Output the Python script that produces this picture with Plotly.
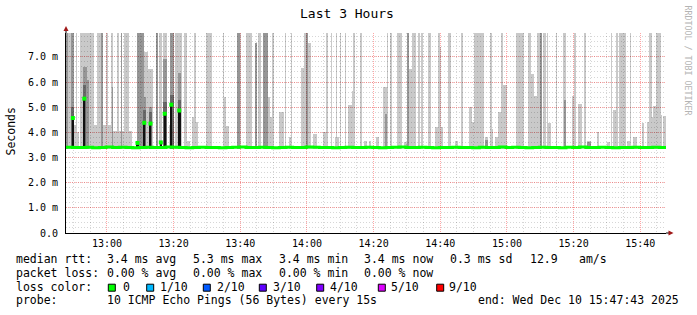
import plotly.graph_objects as go
import pandas as pd

START = pd.Timestamp("2025-12-10 12:47:43")
SPAN_MIN = 180
END = START + pd.Timedelta(minutes=SPAN_MIN)
FULL = 9.0  # smoke that runs past the top of the chart

# ---- smoke (outer ping range): start minute, end minute (after START), top in ms
light_start = [0.0, 0.51, 1.59, 2.49, 3.0, 3.3, 4.29, 8.31, 9.21, 10.41, 10.59, 11.01, 11.85, 12.45, 13.35, 13.95,
               15.21, 15.81, 16.5, 16.8, 17.4, 18.81, 21.3, 23.4, 24.6, 27.09, 27.81, 29.19, 30.81, 31.29, 32.79,
               35.31, 36.3, 37.65, 38.25, 39.0, 42.0, 47.01, 47.49, 48.0, 51.15, 52.2, 54.0, 56.7, 57.69, 59.01,
               60.51, 61.2, 61.89, 63.99, 65.7, 66.9, 67.35, 70.5, 71.25, 72.6, 74.19, 77.19, 77.91, 79.35, 80.7,
               81.0, 81.39, 82.2, 83.64, 84.69, 85.71, 86.19, 88.2, 89.49, 90.9, 92.91, 95.19, 96.21, 97.2, 99.21,
               101.49, 102.21, 102.9, 103.89, 105.69, 106.5, 108.69, 110.7, 111.51, 112.11, 112.59, 114.69, 116.7,
               118.5, 120.9, 121.65, 122.49, 125.7, 127.29, 127.71, 128.7, 129.69, 130.5, 131.19, 135.0, 138.69,
               139.5, 140.49, 141.21, 143.1, 144.21, 144.69, 147.09, 149.19, 151.71, 152.49, 153.69, 155.4, 156.21,
               159.21, 162.21, 163.5, 164.19, 165.0, 165.9, 168.21, 169.05, 170.19, 172.71, 174.21, 174.9, 175.71,
               176.1, 176.85, 178.35, 179.19]
light_end = [0.51, 1.59, 2.49, 3.0, 3.3, 3.99, 8.31, 9.21, 10.41, 10.59, 11.01, 11.85, 12.45, 13.35, 13.95, 15.21,
             15.81, 16.5, 16.8, 17.4, 18.81, 19.8, 23.4, 24.6, 26.1, 27.51, 28.8, 30.21, 31.29, 32.4, 34.71,
             36.3, 37.2, 38.25, 39.0, 39.45, 43.8, 47.49, 47.91, 48.9, 52.05, 52.5, 55.71, 57.15, 58.5, 60.51,
             61.2, 61.89, 62.49, 65.31, 66.0, 67.35, 67.65, 71.25, 72.6, 73.5, 75.21, 77.91, 78.69, 79.65, 81.0,
             81.39, 81.9, 82.59, 83.94, 85.71, 86.19, 86.7, 88.71, 90.21, 91.5, 93.9, 96.21, 96.69, 97.89, 100.71,
             102.21, 102.9, 103.89, 104.91, 106.2, 107.19, 109.5, 111.51, 112.11, 112.59, 113.19, 115.5, 117.69,
             119.1, 121.65, 122.49, 125.49, 126.69, 127.71, 128.19, 129.51, 130.5, 131.1, 132.21, 137.4, 139.5,
             140.49, 141.21, 142.71, 143.91, 144.69, 145.5, 147.39, 150.09, 152.49, 152.91, 154.71, 156.0, 157.5,
             159.9, 163.2, 163.89, 165.0, 165.51, 168.0, 169.05, 169.41, 171.21, 173.49, 174.9, 175.71, 176.1,
             176.85, 178.35, 178.8, 179.91]
light_top = [FULL, FULL, FULL, 4.3, FULL, 4.0, FULL, 4.3, FULL, 4.3, FULL, 4.3, FULL, 4.3, FULL, 4.05,
             FULL, 4.05, FULL, 4.05, FULL, 4.05, FULL, 7.2, 6.5, FULL, FULL, FULL, 4.3, FULL, FULL,
             FULL, 3.65, 4.6, FULL, 4.4, FULL, FULL, 5.4, 4.24, FULL, FULL, FULL, 7.55, FULL, FULL,
             5.4, 4.6, FULL, 4.82, FULL, 3.8, FULL, 6.55, FULL, 7.55, 3.94, 4.0, FULL, FULL, 3.8,
             FULL, 3.8, FULL, FULL, 5.1, 5.66, FULL, FULL, 3.65, 3.65, 3.8, 5.8, FULL, FULL, FULL,
             3.6, FULL, 6.5, FULL, FULL, FULL, FULL, 4.2, FULL, 7.38, 4.2, FULL, 3.65,
             FULL, 5.0, 4.4, FULL, 3.8, FULL, 4.12, 3.8, 4.8, FULL, 5.87, FULL, FULL,
             6.32, 5.43, FULL, FULL, FULL, 4.37, FULL, FULL, 5.43, FULL, 5.13, FULL, 3.65,
             4.02, 3.62, FULL, 4.87, FULL, FULL, 3.65, FULL, 3.81, 4.38, 4.42, FULL, 4.6,
             5.04, FULL, 4.69, 4.65]

# ---- smoke (inner ping range)
mid_start = [0.0, 1.59, 5.19, 6.39, 10.59, 13.65, 16.5, 21.3, 23.4, 24.9, 27.09, 29.19, 31.29, 33.6, 51.15,
             56.7, 59.01, 72.09, 95.7, 102.21, 125.7, 142.29, 149.4, 156.21]
mid_end = [0.51, 2.49, 6.39, 6.99, 11.01, 13.95, 16.8, 23.4, 24.0, 25.8, 27.51, 30.21, 32.4, 34.59, 52.05,
           57.15, 60.51, 72.6, 96.21, 102.9, 126.69, 142.71, 150.0, 157.5]
mid_top = [FULL, FULL, 6.6, 6.1, FULL, 5.8, FULL, FULL, 5.4, 5.0, FULL, 6.9, FULL, 6.36, FULL,
           7.55, FULL, FULL, 4.75, FULL, 3.7, FULL, 5.3, 3.62]

# ---- smoke (core around the median)
core_start = [1.59, 5.19, 23.1, 24.9, 29.19, 31.29, 33.6]
core_end = [2.49, 6.0, 24.0, 25.8, 30.21, 32.31, 34.59]
core_top = [5.0, 5.9, 4.9, 4.8, 5.2, 5.5, 5.3]

# ---- median rtt (ms), one value every 2 minutes
med_t = list(range(0, 181, 2))
med_v = [3.41, 3.40, 3.40, 3.41, 3.39, 3.40, 3.42, 3.40, 3.41, 3.40,
         3.39, 3.40, 3.41, 3.40, 3.40, 3.42, 3.41, 3.40, 3.39, 3.40,
         3.41, 3.40, 3.40, 3.39, 3.40, 3.41, 3.42, 3.40, 3.40, 3.41,
         3.40, 3.39, 3.40, 3.41, 3.40, 3.40, 3.42, 3.41, 3.40, 3.40,
         3.39, 3.40, 3.41, 3.40, 3.40, 3.41, 3.40, 3.39, 3.40, 3.41,
         3.42, 3.40, 3.40, 3.41, 3.40, 3.39, 3.40, 3.40, 3.41, 3.40,
         3.40, 3.39, 3.41, 3.40, 3.40, 3.42, 3.40, 3.41, 3.40, 3.39,
         3.40, 3.41, 3.40, 3.40, 3.39, 3.41, 3.40, 3.42, 3.40, 3.40,
         3.41, 3.40, 3.39, 3.40, 3.40, 3.41, 3.40, 3.40, 3.41, 3.40, 3.40]

# ---- median spikes
spike_start = [1.8, 5.19, 21.09, 23.19, 25.11, 28.29, 29.31, 31.29, 33.6]
spike_end = [2.31, 5.79, 21.81, 23.79, 25.59, 28.59, 29.91, 31.89, 34.35]
spike_v = [4.57, 5.34, 3.58, 4.38, 4.35, 3.6, 4.74, 5.1, 4.87]

# ---- y ticks
y_tickvals = [0, 1, 2, 3, 4, 5, 6, 7]
y_ticktext = ["0.0", "1.0 m", "2.0 m", "3.0 m", "4.0 m", "5.0 m", "6.0 m", "7.0 m"]

# ---- legend statistics
rtt_values = [3.4, 5.3, 3.4, 3.4, 0.3]
rtt_labels = ["avg", "max", "min", "now", "sd"]
am_value = 12.9
loss_values = [0.00, 0.00, 0.00, 0.00]
loss_labels = ["avg", "max", "min", "now"]
loss_names = ["0", "1/10", "2/10", "3/10", "4/10", "5/10", "9/10"]
loss_colors = ["#00ff00", "#00b8ff", "#0059ff", "#5e00ff", "#7e00ff", "#dd00ff", "#ff0000"]
probe_text = "10 ICMP Echo Pings (56 Bytes) every 15s"
end_text = "end: Wed Dec 10 15:47:43 2025"

# ---------------- layout geometry (pixels)
W, H = 697, 315
PL, PR, PT, PB = 66, 666, 33, 233
FONT = "DejaVu Sans Mono"


def px(x):
    return (x - PL) / (PR - PL)


def py(y):
    return (PB - y) / (PB - PT)


def T(m):
    return START + pd.Timedelta(minutes=m)


fig = go.Figure()


def add_bars(s, e, top, base, color):
    fig.add_trace(go.Bar(
        x=[T((a + b) / 2) for a, b in zip(s, e)],
        y=[t - base for t in top],
        base=base,
        width=[(b - a) * 60000 for a, b in zip(s, e)],
        marker=dict(color=color, line=dict(width=0)),
        hoverinfo="skip", showlegend=False))


add_bars(light_start, light_end, light_top, 3.35, "rgba(0,0,0,0.21)")
add_bars(mid_start, mid_end, mid_top, 3.35, "rgba(0,0,0,0.25)")
add_bars(core_start, core_end, core_top, 3.35, "rgba(0,0,0,0.3)")

fig.add_trace(go.Scatter(
    x=[T(m) for m in med_t], y=med_v, mode="lines",
    line=dict(color="#00ff00", width=3, shape="hv"),
    hoverinfo="skip", showlegend=False))

add_bars(spike_start, spike_end, spike_v, 3.4, "#111111")
fig.add_trace(go.Scatter(
    x=[T((a + b) / 2) for a, b in zip(spike_start, spike_end)], y=spike_v,
    mode="markers", marker=dict(symbol="square", size=4, color="#00ff00", line=dict(width=0)),
    hoverinfo="skip", showlegend=False))

minor_grid = "rgba(0,0,0,0.16)"
major_grid = "rgba(255,0,0,0.35)"

fig.update_layout(
    width=W, height=H,
    margin=dict(l=PL, r=W - PR, t=PT, b=H - PB, pad=0),
    paper_bgcolor="white", plot_bgcolor="white",
    barmode="overlay", bargap=0, showlegend=False,
    font=dict(family=FONT, color="black", size=10),
    xaxis=dict(
        type="date", range=[START, END],
        tick0="2025-12-10 13:00:00", dtick=20 * 60000, tickformat="%H:%M",
        showgrid=True, gridcolor=major_grid, griddash="1px,1px", gridwidth=1,
        minor=dict(tick0="2025-12-10 13:00:00", dtick=5 * 60000, showgrid=True,
                   gridcolor=minor_grid, griddash="1px,2px", gridwidth=1),
        showline=True, linecolor="black", linewidth=1, zeroline=False,
        ticks="", ticklabelstandoff=1,
        tickfont=dict(family=FONT, size=10, color="black"), fixedrange=True),
    yaxis=dict(
        range=[0, 7.95], tickvals=y_tickvals, ticktext=y_ticktext,
        showgrid=True, gridcolor=major_grid, griddash="1px,1px", gridwidth=1,
        minor=dict(dtick=0.2, showgrid=True, gridcolor=minor_grid, griddash="1px,2px", gridwidth=1),
        showline=True, linecolor="black", linewidth=1, zeroline=False,
        ticks="", ticklabelstandoff=5,
        tickfont=dict(family=FONT, size=10, color="black"), fixedrange=True),
)

ann = []
shapes = []


def text(x, y, s, size=11.5, anchor="left", color="black", angle=0):
    ann.append(dict(x=px(x), y=py(y), xref="paper", yref="paper", text=s, showarrow=False,
                    xanchor=anchor, yanchor="middle", textangle=angle, borderpad=0, borderwidth=0,
                    font=dict(family=FONT, size=size, color=color)))


text(347, 13.8, "Last 3 Hours", size=13, anchor="center")
text(10.5, 132, "Seconds", size=11.5, anchor="center", angle=-90)
text(687.5, 60, "RRDTOOL / TOBI OETIKER", size=8.3, anchor="center", color="#b4b4b4", angle=90)

# legend rows
row_y = [259.3, 272.7, 287.0, 300.3]
col_x = [106.5, 192.5, 278.5, 364.2, 449.9]
text(15.5, row_y[0], "median rtt:")
for i, (v, lab) in enumerate(zip(rtt_values, rtt_labels)):
    text(col_x[i], row_y[0], f"{v:.1f} ms {lab}")
text(530, row_y[0], f"{am_value:.1f}")
text(578.5, row_y[0], "am/s")

text(15.5, row_y[1], "packet loss:")
for i, (v, lab) in enumerate(zip(loss_values, loss_labels)):
    text(col_x[i], row_y[1], f"{v:.2f} % {lab}")

text(15.5, row_y[2], "loss color:")
box_x = [108.3, 146.7, 203.3, 259.3, 316.7, 378.3, 436.7]
lab_x = [122.5, 160, 216.5, 273.2, 330.2, 391, 449.2]
for bx, lx, name, col in zip(box_x, lab_x, loss_names, loss_colors):
    shapes.append(dict(type="rect", xref="paper", yref="paper",
                       x0=px(bx), x1=px(bx + 7), y0=py(284.2), y1=py(291.2),
                       fillcolor=col, line=dict(color="black", width=1)))
    text(lx, row_y[2], name)

text(15.5, row_y[3], "probe:")
text(106.5, row_y[3], probe_text)
text(477.5, row_y[3], end_text)

# axis arrows
arrow_col = "#a01818"
shapes.append(dict(type="line", xref="paper", yref="paper", x0=px(666), x1=px(669), y0=py(233), y1=py(233),
                   line=dict(color="black", width=1)))
shapes.append(dict(type="path", xref="paper", yref="paper",
                   path=f"M {px(668.5)},{py(230.5)} L {px(673.5)},{py(233)} L {px(668.5)},{py(235.5)} Z",
                   fillcolor=arrow_col, line=dict(color=arrow_col, width=0)))
shapes.append(dict(type="line", xref="paper", yref="paper", x0=px(66), x1=px(66), y0=py(33), y1=py(30),
                   line=dict(color="black", width=1)))
shapes.append(dict(type="path", xref="paper", yref="paper",
                   path=f"M {px(63.5)},{py(31)} L {px(66)},{py(26)} L {px(68.5)},{py(31)} Z",
                   fillcolor=arrow_col, line=dict(color=arrow_col, width=0)))

fig.update_layout(annotations=ann, shapes=shapes)
fig.write_html("out.html")
